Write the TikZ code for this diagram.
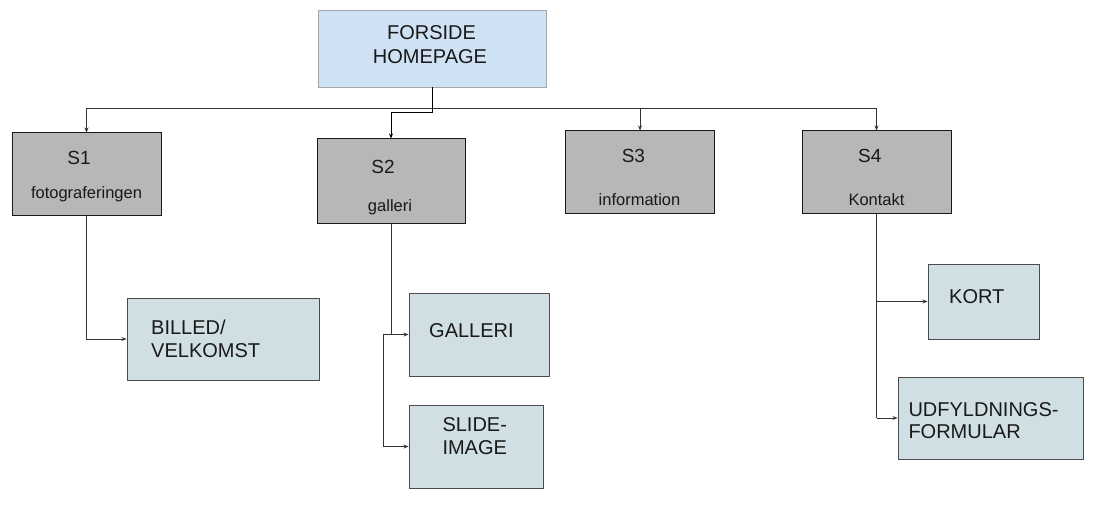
\documentclass[tikz,border=0pt]{standalone}
\usepackage{fontspec}
\setmainfont{Liberation Sans}
\usetikzlibrary{arrows.meta}
\definecolor{topfill}{HTML}{CFE2F3}
\definecolor{sfill}{HTML}{B7B7B7}
\definecolor{lfill}{HTML}{D0DFE3}
\definecolor{linec}{HTML}{333333}
\tikzset{
  topbox/.style={rectangle, inner sep=0pt, draw=black!35, fill=topfill, line width=0.8pt},
  sbox/.style={rectangle, inner sep=0pt, draw=black!90, fill=sfill, line width=1pt},
  lbox/.style={rectangle, inner sep=0pt, draw=black!70, fill=lfill, line width=0.9pt},
  captxt/.style={font=\fontsize{20}{23}\selectfont, inner sep=0pt, text=black!90},
  stxt/.style={font=\fontsize{19}{22}\selectfont, inner sep=0pt, text=black!90},
  smalltxt/.style={font=\fontsize{16.5}{19}\selectfont, inner sep=0pt, text=black!90},
  conn/.style={draw=linec, line width=0.9pt},
  arr/.style={conn, -{Stealth[length=5pt,width=4pt]}}
}
\begin{document}
\begin{tikzpicture}[x=1pt,y=-1pt]
\useasboundingbox (0,0) rectangle (1096,510);
% boxes
\node[topbox, minimum width=228pt, minimum height=77pt] (top) at (432,48.5) {};
\node[sbox, minimum width=149pt, minimum height=83pt] (s1) at (86.5,174.5) {};
\node[sbox, minimum width=148pt, minimum height=85pt] (s2) at (391,181.5) {};
\node[sbox, minimum width=148.5pt, minimum height=83pt] (s3) at (640,172.5) {};
\node[sbox, minimum width=149pt, minimum height=83pt] (s4) at (876.5,172.5) {};
\node[lbox, minimum width=192pt, minimum height=82pt] (billed) at (223,339) {};
\node[lbox, minimum width=140pt, minimum height=83pt] (galleri) at (479,334.5) {};
\node[lbox, minimum width=134pt, minimum height=83pt] (slide) at (476,446.5) {};
\node[lbox, minimum width=111pt, minimum height=75pt] (kort) at (983.5,301.5) {};
\node[lbox, minimum width=185pt, minimum height=82pt] (udf) at (990.5,418) {};
% texts
\node[captxt, anchor=base] (t1) at (431.5,40) {FORSIDE};
\node[captxt, anchor=base] (t2) at (430,64) {HOMEPAGE};
\node[stxt, anchor=base] (s1a) at (79,165) {S1};
\node[smalltxt, anchor=base] (s1b) at (86.5,199) {fotograferingen};
\node[stxt, anchor=base] (s2a) at (383,174) {S2};
\node[smalltxt, anchor=base] (s2b) at (390,211.5) {galleri};
\node[stxt, anchor=base] (s3a) at (633.4,162.7) {S3};
\node[smalltxt, anchor=base] (s3b) at (639.5,206) {information};
\node[stxt, anchor=base] (s4a) at (869.8,162.7) {S4};
\node[smalltxt, anchor=base] (s4b) at (876.5,206) {Kontakt};
\node[captxt, anchor=base west] (b1) at (151,335) {BILLED/};
\node[captxt, anchor=base west] (b2) at (151,358) {VELKOMST};
\node[captxt, anchor=base west] (g1) at (429,338) {GALLERI};
\node[captxt, anchor=base west] (sl1) at (442.3,431.7) {SLIDE-};
\node[captxt, anchor=base west] (sl2) at (442.3,455) {IMAGE};
\node[captxt, anchor=base west] (k1) at (949,303.3) {KORT};
\node[captxt, anchor=base west] (u1) at (908.3,416.7) {UDFYLDNINGS-};
\node[captxt, anchor=base west] (u2) at (908.3,439) {FORMULAR};
% junction coordinates
\coordinate (hb) at (432,108.3);
\coordinate (j2) at (432,112);
\coordinate (jg) at (383.3,334.5);
% connectors from top
\draw[conn] (s1.north |- hb) -- (s4.north |- hb);
\draw[arr] (s1.north |- hb) -- (s1.north);
\draw[arr] (s3.north |- hb) -- (s3.north);
\draw[arr] (s4.north |- hb) -- (s4.north);
\draw[arr, draw=black] (top.south) -- (j2) -- (s2.north |- j2) -- (s2.north);
% S1
\draw[arr] (s1.south) |- (billed.west);
% S2
\draw[conn] (s2.south) -- (s2.south |- jg);
\draw[arr] (jg) -- (galleri.west);
\draw[arr] (jg) |- (slide.west);
% S4
\draw[conn] (s4.south) -- (s4.south |- udf.west);
\draw[arr] (s4.south |- kort.west) -- (kort.west);
\draw[arr] (s4.south |- udf.west) -- (udf.west);
\end{tikzpicture}
\end{document}
